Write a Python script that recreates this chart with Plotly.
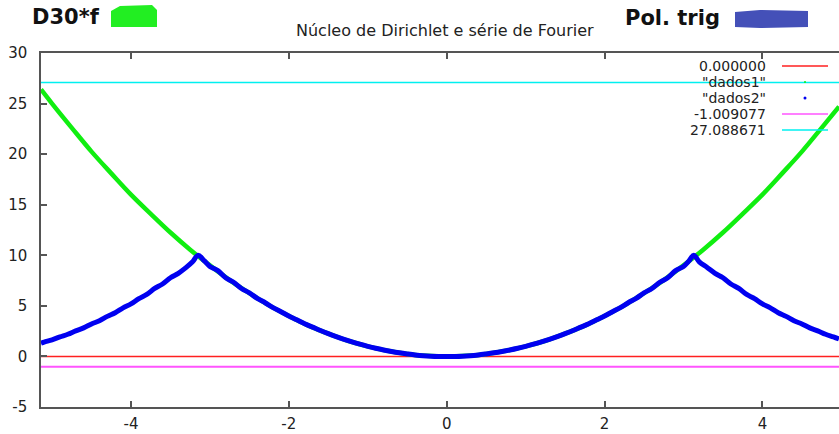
import plotly.graph_objects as go

# ---------------- data ----------------
# green curve ("dados1")
green_x = [-5.14, -5.0, -4.75, -4.5, -4.25, -4.0, -3.75, -3.5, -3.25, -3.0, -2.75, -2.5, -2.25, -2.0,
           -1.75, -1.5, -1.25, -1.0, -0.75, -0.5, -0.25, 0.0, 0.25, 0.5, 0.75, 1.0, 1.25, 1.5, 1.75,
           2.0, 2.25, 2.5, 2.75, 3.0, 3.25, 3.5, 3.75, 4.0, 4.25, 4.5, 4.75, 4.97]
green_y = [26.4, 25.0, 22.6, 20.25, 18.1, 16.0, 14.1, 12.25, 10.55, 9.0, 7.55, 6.25, 5.05, 4.0,
           3.05, 2.25, 1.55, 1.0, 0.56, 0.25, 0.06, 0.0, 0.06, 0.25, 0.56, 1.0, 1.55, 2.25, 3.05,
           4.0, 5.05, 6.25, 7.55, 9.0, 10.55, 12.25, 14.1, 16.0, 18.1, 20.25, 22.6, 24.7]

# blue curve ("dados2")
blue_x = [-5.14, -5.1, -5.0, -4.9, -4.8, -4.7, -4.6, -4.5, -4.4, -4.3, -4.2, -4.1, -4.0, -3.9, -3.8,
          -3.7, -3.6, -3.5, -3.4, -3.3, -3.22, -3.15, -3.07, -3.0, -2.9, -2.8, -2.7, -2.6, -2.5, -2.4,
          -2.3, -2.2, -2.1, -2.0, -1.9, -1.8, -1.7, -1.6, -1.5, -1.4, -1.3, -1.2, -1.1, -1.0, -0.9,
          -0.8, -0.7, -0.6, -0.5, -0.4, -0.3, -0.2, -0.1, 0.0, 0.1, 0.2, 0.3, 0.4, 0.5, 0.6, 0.7,
          0.8, 0.9, 1.0, 1.1, 1.2, 1.3, 1.4, 1.5, 1.6, 1.7, 1.8, 1.9, 2.0, 2.1, 2.2, 2.3, 2.4, 2.5,
          2.6, 2.7, 2.8, 2.9, 3.0, 3.07, 3.13, 3.2, 3.3, 3.4, 3.5, 3.6, 3.7, 3.8, 3.9, 4.0, 4.1,
          4.2, 4.3, 4.4, 4.5, 4.6, 4.7, 4.8, 4.9, 4.97]
blue_y = [1.31, 1.42, 1.64, 1.93, 2.19, 2.53, 2.82, 3.21, 3.53, 3.96, 4.32, 4.80, 5.19, 5.72, 6.13,
          6.72, 7.16, 7.78, 8.22, 8.80, 9.35, 10.0, 9.45, 8.90, 8.48, 7.78, 7.33, 6.72, 6.28, 5.74,
          5.31, 4.83, 4.42, 3.99, 3.62, 3.23, 2.90, 2.56, 2.25, 1.96, 1.69, 1.44, 1.21, 1.00, 0.81,
          0.64, 0.49, 0.36, 0.25, 0.15, 0.07, 0.02, 0.0, 0.0, 0.0, 0.02, 0.07, 0.15, 0.25, 0.36, 0.49,
          0.64, 0.81, 1.00, 1.21, 1.44, 1.69, 1.96, 2.25, 2.56, 2.90, 3.23, 3.62, 3.99, 4.42, 4.83,
          5.31, 5.74, 6.28, 6.72, 7.33, 7.78, 8.48, 8.90, 9.45, 10.0, 9.35, 8.80, 8.22, 7.78, 7.16,
          6.72, 6.13, 5.72, 5.19, 4.80, 4.32, 3.96, 3.53, 3.21, 2.82, 2.53, 2.19, 1.93, 1.72]

# constant lines
hline_values = [0.0, -1.009077, 27.088671]
hline_colors = ["#ff2020", "#ff55ff", "#00f0f0"]
x_range = [-5.14, 4.97]

legend_labels = ["0.000000", '"dados1"', '"dados2"', "-1.009077", "27.088671"]

x_ticks = [-4, -2, 0, 2, 4]
y_ticks = [-5, 0, 5, 10, 15, 20, 25, 30]

# ---------------- figure ----------------
fig = go.Figure()
fig.add_trace(go.Scatter(x=x_range, y=[hline_values[0]] * 2, mode="lines",
                         line=dict(color=hline_colors[0], width=1.4)))
fig.add_trace(go.Scatter(x=green_x, y=green_y, mode="lines", line=dict(color="#10ee10", width=4.5, shape="spline")))
fig.add_trace(go.Scatter(x=blue_x, y=blue_y, mode="lines", line=dict(color="#0000f0", width=5, shape="spline")))
fig.add_trace(go.Scatter(x=x_range, y=[hline_values[1]] * 2, mode="lines",
                         line=dict(color=hline_colors[1], width=2)))
fig.add_trace(go.Scatter(x=x_range, y=[hline_values[2]] * 2, mode="lines",
                         line=dict(color=hline_colors[2], width=1.5)))

W, H = 839, 434
PL, PR, PT, PB = 41, 839, 53, 407          # plot area in page pixels
L, T = PL, PT
R = W - PR
B = H - PB
pw, ph = PR - PL, PB - PT


def px(xp):
    return (xp - PL) / pw


def py(yp):
    return (PB - yp) / ph


FONT = "DejaVu Sans"
annotations = [
    dict(text="D30*f", x=px(30), y=py(17), xanchor="left", yanchor="middle",
         font=dict(family=FONT, size=21, color="#111", weight="bold")),
    dict(text="Pol. trig", x=px(623), y=py(18), xanchor="left", yanchor="middle",
         font=dict(family=FONT, size=21, color="#111", weight="bold")),
    dict(text="Núcleo de Dirichlet e série de Fourier", x=px(445), y=py(30), xanchor="center",
         yanchor="middle", font=dict(family=FONT, size=16, color="#222")),
]
legend_rows = [66, 82, 98, 114, 130]
for lab, row in zip(legend_labels, legend_rows):
    annotations.append(dict(text=lab, x=px(768), y=py(row), xanchor="right", yanchor="middle",
                            font=dict(family=FONT, size=14, color="#222")))
for a in annotations:
    a.update(xref="paper", yref="paper", showarrow=False)

shapes = []
# legend samples
sample_colors = {0: hline_colors[0], 3: hline_colors[1], 4: hline_colors[2]}
for i, row in enumerate(legend_rows):
    if i in sample_colors:
        shapes.append(dict(type="line", xref="paper", yref="paper", x0=px(782), x1=px(828),
                           y0=py(row), y1=py(row), line=dict(color=sample_colors[i], width=1.5)))
shapes.append(dict(type="circle", xref="paper", yref="paper", x0=px(804), x1=px(806),
                   y0=py(83), y1=py(81), fillcolor="#10ee10", line=dict(width=0)))
shapes.append(dict(type="circle", xref="paper", yref="paper", x0=px(803.5), x1=px(806.5),
                   y0=py(99.5), y1=py(96.5), fillcolor="#0000f0", line=dict(width=0)))
# colour patches next to the top labels
shapes.append(dict(type="path", xref="paper", yref="paper", fillcolor="#22ee22", line=dict(width=0),
                   path="M {} {} L {} {} L {} {} L {} {} L {} {} L {} {} Z".format(
                       px(111), py(11), px(120), py(6), px(152), py(5), px(157), py(10),
                       px(157), py(27), px(111), py(27))))
shapes.append(dict(type="path", xref="paper", yref="paper", fillcolor="#4450b8", line=dict(width=0),
                   path="M {} {} L {} {} L {} {} L {} {} L {} {} L {} {} Z".format(
                       px(735), py(12), px(760), py(10), px(808), py(11), px(808), py(27),
                       px(760), py(28), px(735), py(27))))

fig.update_layout(
    width=W, height=H, margin=dict(l=L, r=R, t=T, b=B, pad=0),
    paper_bgcolor="white", plot_bgcolor="white", showlegend=False,
    annotations=annotations, shapes=shapes,
    font=dict(family=FONT, size=15, color="#222"),
)
fig.update_xaxes(range=x_range, tickvals=x_ticks, ticktext=[str(v) for v in x_ticks],
                 showgrid=False, zeroline=False, showline=True, linecolor="#555", linewidth=1.5,
                 mirror="ticks", ticks="inside", ticklen=6, tickcolor="#555", tickwidth=1.5,
                 tickfont=dict(family=FONT, size=15, color="#222"), ticklabelstandoff=2)
fig.update_yaxes(range=[-5, 30], tickvals=y_ticks, ticktext=[str(v) for v in y_ticks],
                 showgrid=False, zeroline=False, showline=True, linecolor="#555", linewidth=1.5,
                 ticks="inside", ticklen=6, tickcolor="#555", tickwidth=1.5,
                 tickfont=dict(family=FONT, size=15, color="#222"), ticklabelstandoff=9)

fig.write_html("out.html", config={"displayModeBar": False},
               post_script="document.body.style.margin='0px';document.body.style.overflow='hidden';")
